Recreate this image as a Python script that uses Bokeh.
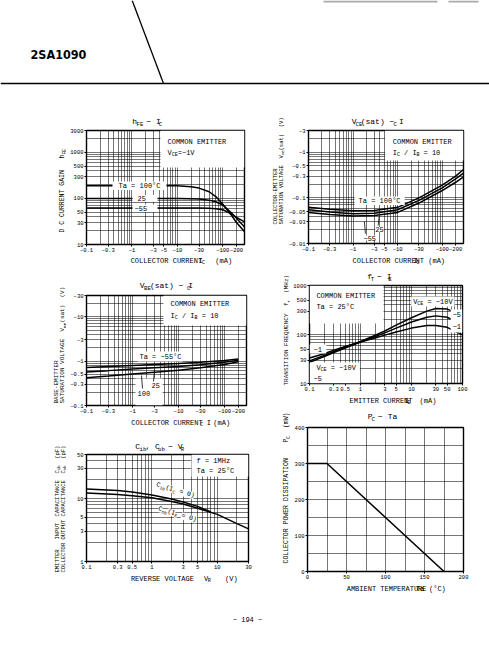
import math, re
from bokeh.plotting import figure
from bokeh.models import (Label, BoxAnnotation, FixedTicker, CustomJSTickFormatter,
                          Range1d, Arrow, Span)
from bokeh.layouts import column, row
from bokeh.embed import file_html
from bokeh.resources import INLINE

MONO = "Liberation Mono"

# ---------------- data ----------------
# hFE - IC  (IC in -mA)
hfe_ic = [0.1, 0.3, 1, 3, 10, 20, 30, 50, 70, 100, 150, 200, 300]
hfe_ta100 = [190, 190, 190, 190, 188, 180, 168, 140, 110, 75, 45, 30, 19]
hfe_ta25 = [100, 100, 100, 100, 100, 99, 97, 92, 85, 72, 50, 37, 24]
hfe_tam55 = [62, 62, 62, 62, 62, 62, 62, 61, 60, 57, 47, 39, 31]

# VCE(sat) - IC  (-V vs -mA)
vce_ic = [0.1, 0.3, 1, 3, 10, 30, 100, 200, 300]
vce_ta100 = [0.062, 0.056, 0.052, 0.053, 0.062, 0.10, 0.19, 0.30, 0.42]
vce_ta25 = [0.055, 0.049, 0.045, 0.046, 0.055, 0.088, 0.165, 0.26, 0.35]
vce_tam55 = [0.048, 0.043, 0.040, 0.041, 0.048, 0.077, 0.145, 0.22, 0.29]

# VBE(sat) - IC
vbe_ic = [0.1, 0.3, 1, 3, 10, 30, 100, 200]
vbe_tam55 = [0.72, 0.76, 0.80, 0.84, 0.88, 0.94, 1.03, 1.12]
vbe_ta25 = [0.57, 0.61, 0.66, 0.71, 0.76, 0.83, 0.94, 1.05]
vbe_ta100 = [0.42, 0.46, 0.51, 0.56, 0.62, 0.71, 0.84, 0.97]

# fT - IE
ft_ie = [0.1, 0.2, 0.3, 0.5, 1, 2, 3, 5, 10, 20, 30, 50, 100]
ft_vce10 = [29, 38, 45, 55, 72, 98, 118, 155, 220, 300, 340, 330, 245]
ft_vce5 = [27, 36, 43, 53, 70, 92, 108, 135, 180, 225, 240, 225, 155]
ft_vce1 = [33, 41, 48, 57, 70, 86, 97, 112, 135, 152, 152, 140, 98]

# Cib, Cob - VR
cib_vr = [0.1, 0.3, 0.5, 1, 2, 3, 5, 8]
cib_pf = [14.2, 13.4, 12.7, 11.4, 9.8, 8.8, 7.5, 6.1]
cob_vr = [0.1, 0.3, 0.5, 1, 2, 3, 5, 10, 20, 30]
cob_pf = [12.2, 11.6, 11.1, 10.3, 9.0, 8.2, 7.0, 5.6, 4.0, 3.3]

# PC - Ta
pc_ta = [0, 25, 175]
pc_mw = [300, 300, 0]

# tick values
ic_ticks = [0.1, 0.3, 1, 3, 5, 10, 30, 100, 200]
ic_ticks_b = [0.1, 0.3, 1, 3, 10, 30, 100, 200]
hfe_ticks = [10, 30, 50, 100, 300, 500, 1000, 3000]
vce_ticks = [0.01, 0.03, 0.05, 0.1, 0.3, 0.5, 1, 3]
vbe_ticks = [0.1, 0.3, 0.5, 1, 3, 10, 30]
ie_ticks = [0.1, 0.3, 0.5, 1, 3, 5, 10, 30, 50, 100]
ft_ticks = [10, 30, 50, 100, 300, 500, 1000]
vr_ticks = [0.1, 0.3, 0.5, 1, 3, 5, 10, 30]
c_ticks = [1, 3, 5, 10, 30, 50]
ta_ticks = [0, 50, 100, 150, 200]
pc_ticks = [0, 100, 200, 300, 400]


# ---------------- helpers ----------------
def loggrid(a, b):
    out = []
    k = math.floor(math.log10(a))
    while 10 ** k < b:
        for m in range(1, 10):
            v = float(f"{m * 10 ** k:.6g}")
            if a < v < b:
                out.append(v)
        k += 1
    return out


def make_chart(box, fr, xr, yr, xlog=True, ylog=True):
    bx, by, bw, bh = box
    fx0, fy0, fx1, fy1 = fr
    p = figure(width=bw, height=bh,
               x_axis_type="log" if xlog else "linear",
               y_axis_type="log" if ylog else "linear",
               x_range=Range1d(*xr), y_range=Range1d(*yr),
               min_border_left=fx0 - bx, min_border_right=bx + bw - fx1,
               min_border_top=fy0 - by, min_border_bottom=by + bh - fy1,
               toolbar_location=None, output_backend="svg")
    p.background_fill_color = "white"
    p.border_fill_color = "white"
    p.outline_line_color = "black"
    p.outline_line_width = 1.4
    return dict(p=p, fr=fr, xr=xr, yr=yr, xlog=xlog, ylog=ylog)


def strip(x0, y0, x1, y1):
    p = figure(width=x1 - x0, height=y1 - y0, x_range=Range1d(x0, x1),
               y_range=Range1d(y1, y0), x_axis_location=None, y_axis_location=None,
               min_border=0, toolbar_location=None, output_backend="svg")
    p.grid.visible = False
    p.outline_line_color = None
    p.background_fill_color = "white"
    p.border_fill_color = "white"
    return dict(p=p, fr=(x0, y0, x1, y1), xr=(x0, x1), yr=(y1, y0), xlog=False, ylog=False)


def block(box, fr, split, xl_top, xr, yr, xlog=True, ylog=True):
    bx, by, bw, bh = box
    fx0, fy0, fx1, fy1 = fr
    L = strip(bx, by, split, by + bh)
    T = strip(split, by, bx + bw, fy0 - 2)
    B = strip(split, xl_top, bx + bw, by + bh)
    c = make_chart((split, fy0 - 2, bx + bw - split, xl_top - (fy0 - 2)), fr, xr, yr, xlog, ylog)
    lay = row(L["p"], column(T["p"], c["p"], B["p"], spacing=0), spacing=0)
    return c, L, T, B, lay


def style(c, xticks, yticks, xneg, yneg, xgrid, ygrid):
    p = c["p"]
    p.xaxis.ticker = FixedTicker(ticks=xticks)
    p.yaxis.ticker = FixedTicker(ticks=yticks)
    p.xaxis.formatter = CustomJSTickFormatter(
        code="return '\\u2212' + tick;" if xneg else "return '' + tick;")
    p.yaxis.formatter = CustomJSTickFormatter(
        code="return '\\u2212' + tick;" if yneg else "return '' + tick;")
    for ax in p.axis:
        ax.major_label_text_font = MONO
        ax.major_label_text_font_size = "5.5px"
        ax.major_label_text_color = "black"
        ax.major_tick_out = 2
        ax.major_tick_in = 0
        ax.minor_tick_out = 0
        ax.minor_tick_in = 0
        ax.major_label_standoff = 1
        ax.axis_line_color = None
        ax.major_tick_line_color = "black"
    p.xgrid.ticker = FixedTicker(ticks=xgrid)
    p.ygrid.ticker = FixedTicker(ticks=ygrid)
    p.grid.grid_line_color = "black"
    p.grid.grid_line_width = 0.6
    p.grid.grid_line_alpha = 0.9


def p2d(c, px, py):
    fx0, fy0, fx1, fy1 = c["fr"]
    tx = (px - fx0) / (fx1 - fx0)
    ty = (fy1 - py) / (fy1 - fy0)

    def m(r, t, lg):
        if lg:
            a, b = math.log10(r[0]), math.log10(r[1])
            return 10 ** (a + t * (b - a))
        return r[0] + t * (r[1] - r[0])
    return m(c["xr"], tx, c["xlog"]), m(c["yr"], ty, c["ylog"])


def rich(c, px, py, parts, size=7.0, angle=0.0, bg=None):
    p = c["p"]
    dx, dy = math.cos(angle), -math.sin(angle)
    nx, ny = math.sin(angle), math.cos(angle)
    x, y = px, py
    for txt, sub in parts:
        s = size * 0.72 if sub else size
        off = size * 0.32 if sub else 0.0
        cw = 0.6 * s
        for mt in re.finditer(r"\S+(?: \S+)*", txt):
            a = mt.start() * cw
            lx = x + dx * a + nx * off
            ly = y + dy * a + ny * off
            X, Y = p2d(c, lx, ly)
            lab = Label(x=X, y=Y, text=mt.group(), angle=angle, text_font=MONO,
                        text_font_size=f"{s:.2f}px", text_baseline="middle",
                        text_align="left", text_color="black")
            if bg:
                lab.background_fill_color = bg
            p.add_layout(lab)
        adv = len(txt) * cw
        x += dx * adv
        y += dy * adv


def wbox(c, x0, y0, x1, y1):
    L, T = p2d(c, x0, y0)
    R, B = p2d(c, x1, y1)
    c["p"].add_layout(BoxAnnotation(left=L, right=R, top=T, bottom=B,
                                    fill_color="white", fill_alpha=1.0,
                                    line_color=None))


def leader(c, x0, y0, x1, y1, w=0.8, color="black"):
    X0, Y0 = p2d(c, x0, y0)
    X1, Y1 = p2d(c, x1, y1)
    c["p"].add_layout(Arrow(end=None, x_start=X0, y_start=Y0, x_end=X1, y_end=Y1,
                            line_color=color, line_width=w))


LW = 1.5
HALF = math.pi / 2

# ---------------- chart 1 : hFE - IC ----------------
c1, L1, T1, B1, lay1 = block((0, 110, 252, 158), (86, 130, 244, 244), 66, 255,
                             (0.1, 300), (10, 3000))
style(c1, ic_ticks, hfe_ticks, True, False, loggrid(0.1, 300), loggrid(10, 3000))
for ys in (hfe_ta100, hfe_ta25, hfe_tam55):
    c1["p"].line(hfe_ic, ys, line_color="black", line_width=LW)
wbox(c1, 160, 130, 244, 167)
wbox(c1, 112, 181, 166, 189.5)
wbox(c1, 132, 194.5, 157, 201.5)
wbox(c1, 132, 204, 157, 211.5)
rich(T1, 120, 121, [("h", 0), ("FE", 1), (" − I", 0), ("C", 1)], 8)
rich(L1, 62, 232, [("D C CURRENT GAIN   h", 0), ("FE", 1)], 6.5, HALF)
rich(B1, 118, 260.5, [("COLLECTOR CURRENT  I", 0), ("C", 1), ("   (mA)", 0)], 7)
rich(c1, 167, 141, [("COMMON EMITTER", 0)], 7)
rich(c1, 167, 152, [("V", 0), ("CE", 1), ("=−1V", 0)], 7)
rich(c1, 118, 185.2, [("Ta = 100°C", 0)], 7)
rich(c1, 137, 198, [("25", 0)], 7)
rich(c1, 134, 207.8, [("−55", 0)], 7)

# ---------------- chart 2 : VCE(sat) - IC ----------------
c2, L2, T2, B2, lay2 = block((252, 110, 237, 155), (305, 130, 463, 243), 285, 254,
                             (0.1, 300), (0.01, 3))
style(c2, ic_ticks, vce_ticks, True, True, loggrid(0.1, 300), loggrid(0.01, 3))
for ys in (vce_ta100, vce_ta25, vce_tam55):
    c2["p"].line(vce_ic, ys, line_color="black", line_width=LW)
wbox(c2, 383, 130, 463, 160)
wbox(c2, 352, 196, 403, 204.5)
rich(T2, 342, 121, [("V", 0), ("CE", 1), ("(sat) − I", 0), ("C", 1)], 8)
rich(L2, 275, 224, [("COLLECTOR-EMITTER", 0)], 5.5, HALF)
rich(L2, 281, 224, [("SATURATION VOLTAGE  V", 0), ("CE", 1), ("(sat)  (V)", 0)], 5.5, HALF)
rich(B2, 343, 259, [("COLLECTOR CURRENT  I", 0), ("C", 1), ("   (mA)", 0)], 7)
rich(c2, 391, 141, [("COMMON EMITTER", 0)], 7)
rich(c2, 391, 152, [("I", 0), ("C", 1), (" / I", 0), ("B", 1), (" = 10", 0)], 7)
rich(c2, 356, 200.3, [("Ta = 100°C", 0)], 7)
leader(c2, 376, 225, 377, 216)
leader(c2, 363, 233, 362, 221)
rich(c2, 373, 229, [("25", 0)], 7, bg="white")
rich(c2, 361, 237.5, [("−55", 0)], 7, bg="white")

# ---------------- chart 3 : VBE(sat) - IC ----------------
c3, L3, T3, B3, lay3 = block((0, 268, 252, 162), (86, 295, 246, 405), 66, 416,
                             (0.1, 300), (0.1, 30))
style(c3, ic_ticks_b, vbe_ticks, True, True, loggrid(0.1, 300), loggrid(0.1, 30))
for ys in (vbe_tam55, vbe_ta25, vbe_ta100):
    c3["p"].line(vbe_ic, ys, line_color="black", line_width=LW)
wbox(c3, 163, 295, 246, 325)
wbox(c3, 137, 351, 182, 361)
wbox(c3, 135, 378, 162, 405)
rich(T3, 128, 285, [("V", 0), ("BE", 1), ("(sat) − I", 0), ("C", 1)], 8)
rich(L3, 56, 403, [("BASE-EMITTER", 0)], 6, HALF)
rich(L3, 62, 403, [("SATURATION VOLTAGE  V", 0), ("BE", 1), ("(sat)  (V)", 0)], 6, HALF)
rich(B3, 118, 422, [("COLLECTOR CURRENT I", 0), ("C", 1), ("   (mA)", 0)], 7)
rich(c3, 170, 303, [("COMMON EMITTER", 0)], 7)
rich(c3, 170, 315, [("I", 0), ("C", 1), (" / I", 0), ("B", 1), (" = 10", 0)], 7)
rich(c3, 139, 356, [("Ta = −55°C", 0)], 7)
leader(c3, 153, 381, 154, 369)
leader(c3, 142, 388, 141, 375)
rich(c3, 151, 385, [("25", 0)], 7)
rich(c3, 137, 393, [("100", 0)], 7)

# ---------------- chart 4 : fT - IE ----------------
c4, L4, T4, B4, lay4 = block((252, 265, 237, 143), (307, 285, 462, 383), 290, 394,
                             (0.1, 100), (10, 1000))
style(c4, ie_ticks, ft_ticks, False, False, loggrid(0.1, 100), loggrid(10, 1000))
for ys in (ft_vce10, ft_vce5, ft_vce1):
    c4["p"].line(ft_ie, ys, line_color="black", line_width=LW)
wbox(c4, 307, 285, 382, 323)
wbox(c4, 410, 296, 454, 306)
wbox(c4, 450, 309, 462, 332)
wbox(c4, 307, 362, 358, 383)
wbox(c4, 307, 344, 324, 353)
rich(T4, 365, 276, [("f", 0), ("T", 1), (" − I", 0), ("E", 1)], 8)
rich(L4, 286, 385, [("TRANSITION FREQUENCY  f", 0), ("T", 1), ("  (MHz)", 0)], 6, HALF)
rich(B4, 342, 400, [("EMITTER CURRENT  I", 0), ("E", 1), ("   (mA)", 0)], 7)
rich(c4, 314, 295, [("COMMON EMITTER", 0)], 7)
rich(c4, 314, 306, [("Ta = 25°C", 0)], 7)
rich(c4, 412, 301, [("V", 0), ("CE", 1), (" = −10V", 0)], 7)
rich(c4, 452, 314, [("−5", 0)], 7)
rich(c4, 452, 326, [("−1", 0)], 7)
rich(c4, 314, 367, [("V", 0), ("CE", 1), (" = −10V", 0)], 7)
rich(c4, 311, 378, [("−5", 0)], 7)
rich(c4, 311, 348.5, [("−1", 0)], 7)

# ---------------- chart 5 : Cib, Cob - VR ----------------
c5, L5, T5, B5, lay5 = block((0, 430, 252, 170), (86, 454, 248, 561), 66, 572,
                             (0.1, 30), (1, 50))
style(c5, vr_ticks, c_ticks, False, False, loggrid(0.1, 30), loggrid(1, 50))
c5["p"].line(cib_vr, cib_pf, line_color="black", line_width=LW)
c5["p"].line(cob_vr, cob_pf, line_color="black", line_width=LW)
wbox(c5, 191, 454, 248, 476)
rich(T5, 122, 446, [("C", 0), ("ib", 1), (", C", 0), ("ob", 1), (" − V", 0), ("R", 1)], 8)
rich(L5, 56.5, 572, [("EMITTER   INPUT  CAPACITANCE  C", 0), ("ib", 1), ("  (pF)", 0)], 5.5, HALF)
rich(L5, 62.5, 572, [("COLLECTOR OUTPUT CAPACITANCE  C", 0), ("ob", 1), ("  (pF)", 0)], 5.5, HALF)
rich(B5, 117, 578, [("REVERSE VOLTAGE     V", 0), ("R", 1), ("    (V)", 0)], 7)
rich(c5, 196, 460.5, [("f = 1MHz", 0)], 7)
rich(c5, 196, 470.5, [("Ta = 25°C", 0)], 7)
rich(c5, 156, 484, [("C", 0), ("ib", 1), ("(I", 0), ("C", 1), (" = 0)", 0)], 6.5, -0.3, bg="white")
rich(c5, 158, 508, [("C", 0), ("ob", 1), ("(I", 0), ("E", 1), (" = 0)", 0)], 6.5, -0.3, bg="white")

# ---------------- chart 6 : PC - Ta ----------------
c6, L6, T6, B6, lay6 = block((252, 408, 237, 192), (307, 427, 463, 571), 290, 582,
                             (0, 200), (0, 400), False, False)
style(c6, ta_ticks, pc_ticks, False, False, list(range(25, 200, 25)), list(range(50, 400, 50)))
c6["p"].line(pc_ta, pc_mw, line_color="black", line_width=LW)
rich(T6, 367, 416, [("P", 0), ("C", 1), (" − Ta", 0)], 8)
rich(L6, 285.5, 563, [("COLLECTOR POWER DISSIPATION    P", 0), ("C", 1), ("  (mW)", 0)], 6.5, HALF)
rich(B6, 340, 588, [("AMBIENT TEMPERATURE  Ta  (°C)", 0)], 7)

# ---------------- header and footer ----------------
H = strip(0, 0, 489, 110)
H["p"].add_layout(Label(x=30, y=54, text="2SA1090",
                        text_font="Liberation Sans Narrow, DejaVu Sans Condensed, sans-serif",
                        text_font_style="bold", text_font_size="12.5px",
                        text_baseline="middle", text_align="left", text_color="black"))
leader(H, 131.7, 0, 163, 83, 1.3)
leader(H, 323, 1, 437, 1, 2, "#aaaaaa")
leader(H, 448, 1, 478, 1, 2, "#aaaaaa")
H["p"].add_layout(Span(location=83, dimension="width", line_color="black", line_width=1.6))

F = strip(0, 600, 489, 660)
F["p"].add_layout(Label(x=247, y=619, text="− 194 −", text_font=MONO, text_font_size="7px",
                        text_baseline="middle", text_align="center", text_color="black"))

left = column(lay1, lay3, lay5, spacing=0)
right = column(lay2, lay4, lay6, spacing=0)
layout = column(H["p"], row(left, right, spacing=0), F["p"], spacing=0)

open("out.html", "w", encoding="utf-8").write(file_html(layout, INLINE))
